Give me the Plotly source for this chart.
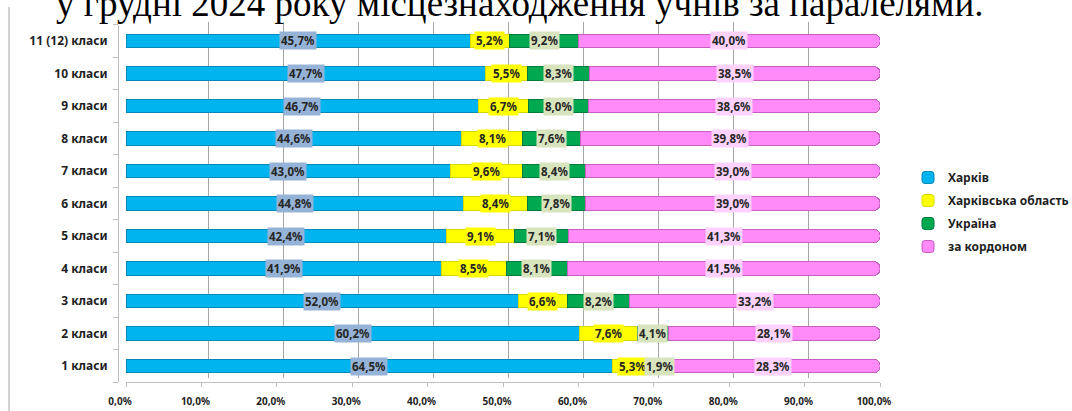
import plotly.graph_objects as go

categories = ["1 класи", "2 класи", "3 класи", "4 класи", "5 класи", "6 класи",
              "7 класи", "8 класи", "9 класи", "10 класи", "11 (12) класи"]
series_names = ["Харків", "Харківська область", "Україна", "за кордоном"]
kharkiv = [64.5, 60.2, 52.0, 41.9, 42.4, 44.8, 43.0, 44.6, 46.7, 47.7, 45.7]
oblast = [5.3, 7.6, 6.6, 8.5, 9.1, 8.4, 9.6, 8.1, 6.7, 5.5, 5.2]
ukraine = [1.9, 4.1, 8.2, 8.1, 7.1, 7.8, 8.4, 7.6, 8.0, 8.3, 9.2]
abroad = [28.3, 28.1, 33.2, 41.5, 41.3, 39.0, 39.0, 39.8, 38.6, 38.5, 40.0]
x_ticks = [0, 10, 20, 30, 40, 50, 60, 70, 80, 90, 100]
title_text = "у грудні 2024 року місцезнаходження учнів за паралелями."

series = [kharkiv, oblast, ukraine, abroad]
bar_colors = ["#00B4F0", "#FFFF00", "#00A850", "#FF8AF8"]
line_colors = ["#0089B8", "#D8D800", "#007A3A", "#C65FC0"]
label_bg = ["#95B3D7", "#FFFF00", "#D7E4BD", "#FFD2FF"]

W, H = 1072, 411
ML, MT, MB = 118, 22, 28
PW = 766
MR = W - ML - PW
PH = H - MT - MB

def fmt(v):
    return f"{v:.1f}".replace(".", ",") + "%"

fig = go.Figure()

# invisible trace for the back-wall grid subplot (xy)
fig.add_trace(go.Scatter(x=[0, 100], y=[0, 1], mode="markers", marker=dict(opacity=0),
                         showlegend=False, hoverinfo="skip", xaxis="x", yaxis="y"))

for name, vals, col, lc in zip(series_names, series, bar_colors, line_colors):
    fig.add_trace(go.Bar(
        y=categories, x=vals, name=name, orientation="h",
        marker=dict(color=col, line=dict(color=lc, width=1)),
        width=0.42, xaxis="x2", yaxis="y2", legendgroup=name,
    ))

annotations = []
for i, cat in enumerate(categories):
    row = [s[i] for s in series]
    total = sum(row)
    cum = 0.0
    for j, v in enumerate(row):
        nv = v / total * 100
        center = cum + nv / 2
        cum += nv
        annotations.append(dict(
            x=center, y=cat, xref="x2", yref="y2", text=fmt(v), showarrow=False,
            font=dict(family="Noto Sans", size=11.5, color="#262626", weight="bold"),
            bgcolor=label_bg[j], borderpad=1,
        ))

annotations.append(dict(
    x=(520 - ML) / PW, y=1, xref="paper", yref="paper", yanchor="bottom", yshift=-4,
    text=title_text, showarrow=False,
    font=dict(family="Liberation Serif", size=37, color="#000000"),
))

shapes = [dict(type="line", xref="paper", yref="paper",
               x0=(9 - ML) / PW, x1=(9 - ML) / PW, y0=-0.2, y1=(H - MB - 7) / PH,
               line=dict(color="#A6A6A6", width=1))]

fig.update_layout(
    width=W, height=H,
    margin=dict(l=ML, r=MR, t=MT, b=MB, autoexpand=False),
    paper_bgcolor="white", plot_bgcolor="rgba(0,0,0,0)",
    barmode="stack", barnorm="percent",
    separators=", ",
    showlegend=True,
    legend=dict(x=(908 - ML) / PW, y=(H - MB - 212) / PH, xanchor="left", yanchor="middle",
                traceorder="grouped", tracegroupgap=4, bgcolor="rgba(0,0,0,0)",
                font=dict(family="Noto Sans", size=12, color="#1F1F1F", weight="bold")),
    xaxis=dict(domain=[15 / PW, 1], range=[0, 100], anchor="y", automargin=False,
               showgrid=True, gridcolor="#A6A6A6", gridwidth=1, tickvals=x_ticks,
               showticklabels=False, ticks="", zeroline=False, showline=False),
    yaxis=dict(domain=[5 / PH, 1], range=[0, 1], anchor="x", visible=False, automargin=False),
    xaxis2=dict(domain=[8 / PW, 762 / PW], range=[0, 100], anchor="y2", automargin=False,
                tickvals=x_ticks, ticktext=[fmt(v) for v in x_ticks], ticklabelshift=-6,
                showgrid=False, zeroline=False, showline=True, linecolor="#BFBFBF",
                ticks="outside", ticklen=4, tickcolor="#BFBFBF", ticklabelstandoff=6,
                tickfont=dict(family="Noto Sans", size=10, color="#1F1F1F", weight="bold")),
    yaxis2=dict(domain=[0.75 / PH, 358.25 / PH], anchor="free", position=0,
                type="category", automargin=False,
                categoryorder="array", categoryarray=categories,
                showgrid=False, showline=True, linecolor="#BFBFBF",
                ticks="outside", tickson="boundaries", ticklen=5, tickcolor="#BFBFBF",
                ticklabelstandoff=8,
                tickfont=dict(family="Noto Sans", size=12, color="#1F1F1F", weight="bold")),
    annotations=annotations,
    shapes=shapes,
    barcornerradius=6,
)

fig.write_html("out.html", config={"displayModeBar": False},
               post_script="document.body.style.margin='0';document.body.style.overflow='hidden';")
